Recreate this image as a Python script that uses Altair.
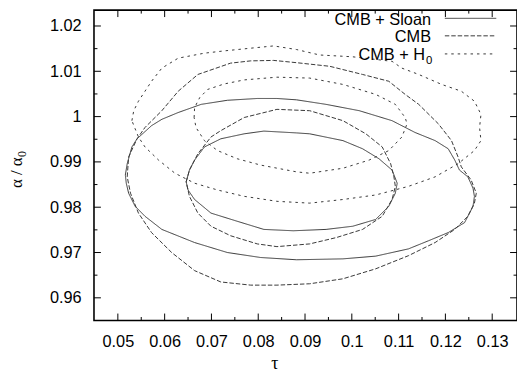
import altair as alt
import pandas as pd

# ---------------- data ----------------
sloan95_tau = [0.0516, 0.0520, 0.0530, 0.0541, 0.0572, 0.0594, 0.0629, 0.0678, 0.0734, 0.0798,
               0.0840, 0.0882, 0.0945, 0.1016, 0.1086, 0.1135, 0.1178, 0.1206, 0.1220, 0.1230,
               0.1248, 0.1259, 0.1262, 0.1259, 0.1241, 0.1206, 0.1164, 0.1121, 0.1051, 0.0981,
               0.0882, 0.0805, 0.0734, 0.0664, 0.0594, 0.0558, 0.0537, 0.0523, 0.0518]
sloan95_alpha = [0.9871, 0.9896, 0.9933, 0.9951, 0.9980, 0.9994, 1.0009, 1.0027, 1.0036, 1.0040,
                 1.0040, 1.0037, 1.0027, 1.0013, 0.9991, 0.9965, 0.9947, 0.9929, 0.9904, 0.9882,
                 0.9867, 0.9842, 0.9824, 0.9802, 0.9766, 0.9744, 0.9726, 0.9708, 0.9692, 0.9686,
                 0.9684, 0.9689, 0.9700, 0.9722, 0.9751, 0.9780, 0.9802, 0.9831, 0.9853]

sloan68_tau = [0.0646, 0.0653, 0.0664, 0.0685, 0.0720, 0.0770, 0.0812, 0.0882, 0.0910, 0.0981,
               0.1023, 0.1058, 0.1086, 0.1097, 0.1093, 0.1079, 0.1051, 0.1002, 0.0945, 0.0875,
               0.0812, 0.0755, 0.0699, 0.0664, 0.0650]
sloan68_alpha = [0.9856, 0.9882, 0.9904, 0.9933, 0.9951, 0.9962, 0.9968, 0.9964, 0.9962, 0.9947,
                 0.9929, 0.9907, 0.9882, 0.9853, 0.9831, 0.9802, 0.9773, 0.9758, 0.9751, 0.9748,
                 0.9751, 0.9769, 0.9787, 0.9817, 0.9838]

cmb95_tau = [0.0520, 0.0523, 0.0541, 0.0558, 0.0594, 0.0629, 0.0671, 0.0741, 0.0784, 0.0833,
             0.0882, 0.0953, 0.1023, 0.1079, 0.1114, 0.1143, 0.1185, 0.1213, 0.1227, 0.1234,
             0.1255, 0.1266, 0.1262, 0.1248, 0.1220, 0.1178, 0.1121, 0.1051, 0.0981, 0.0910,
             0.0840, 0.0784, 0.0720, 0.0664, 0.0615, 0.0572, 0.0544, 0.0527]
cmb95_alpha = [0.9867, 0.9911, 0.9951, 0.9976, 1.0013, 1.0056, 1.0093, 1.0118, 1.0123, 1.0124,
               1.0119, 1.0111, 1.0093, 1.0078, 1.0049, 1.0027, 0.9984, 0.9947, 0.9911, 0.9889,
               0.9860, 0.9831, 0.9809, 0.9780, 0.9751, 0.9722, 0.9693, 0.9664, 0.9642, 0.9631,
               0.9628, 0.9628, 0.9635, 0.9660, 0.9700, 0.9744, 0.9787, 0.9831]

cmb68_tau = [0.0646, 0.0653, 0.0671, 0.0699, 0.0720, 0.0770, 0.0840, 0.0910, 0.0981, 0.1030,
             0.1065, 0.1083, 0.1090, 0.1093, 0.1086, 0.1065, 0.1023, 0.0967, 0.0910, 0.0840,
             0.0798, 0.0741, 0.0699, 0.0671, 0.0653]
cmb68_alpha = [0.9856, 0.9882, 0.9918, 0.9955, 0.9969, 0.9998, 1.0016, 1.0013, 0.9991, 0.9962,
               0.9933, 0.9896, 0.9867, 0.9846, 0.9817, 0.9780, 0.9751, 0.9733, 0.9719, 0.9713,
               0.9719, 0.9737, 0.9758, 0.9787, 0.9824]

h095_tau = [0.0530, 0.0534, 0.0544, 0.0558, 0.0572, 0.0594, 0.0629, 0.0685, 0.0727, 0.0784,
            0.0833, 0.0882, 0.0931, 0.1002, 0.1086, 0.1107, 0.1143, 0.1192, 0.1234, 0.1262,
            0.1276, 0.1273, 0.1276, 0.1262, 0.1227, 0.1178, 0.1121, 0.1051, 0.0981, 0.0910,
            0.0840, 0.0770, 0.0713, 0.0664, 0.0622, 0.0587, 0.0558, 0.0544, 0.0537]
h095_alpha = [0.9991, 1.0013, 1.0034, 1.0056, 1.0078, 1.0107, 1.0129, 1.0140, 1.0145, 1.0151,
              1.0156, 1.0148, 1.0136, 1.0132, 1.0122, 1.0107, 1.0093, 1.0071, 1.0056, 1.0034,
              1.0005, 0.9976, 0.9947, 0.9925, 0.9896, 0.9867, 0.9846, 0.9827, 0.9817, 0.9809,
              0.9813, 0.9824, 0.9838, 0.9853, 0.9875, 0.9904, 0.9933, 0.9955, 0.9973]

h068_tau = [0.0663, 0.0664, 0.0675, 0.0692, 0.0727, 0.0770, 0.0840, 0.0910, 0.0981, 0.1051,
            0.1093, 0.1114, 0.1118, 0.1107, 0.1079, 0.1037, 0.0981, 0.0910, 0.0882, 0.0805,
            0.0755, 0.0713, 0.0685, 0.0667]
h068_alpha = [0.9998, 1.0020, 1.0042, 1.0060, 1.0072, 1.0081, 1.0087, 1.0085, 1.0071, 1.0049,
              1.0027, 0.9998, 0.9984, 0.9955, 0.9925, 0.9904, 0.9886, 0.9875, 0.9878, 0.9893,
              0.9907, 0.9925, 0.9947, 0.9976]

series_names = ["CMB + Sloan", "CMB", "CMB + H0"]
x_major = [0.05, 0.06, 0.07, 0.08, 0.09, 0.1, 0.11, 0.12, 0.13]
x_minor = [0.055, 0.065, 0.075, 0.085, 0.095, 0.105, 0.115, 0.125]
y_major = [0.96, 0.97, 0.98, 0.99, 1.0, 1.01, 1.02]
y_minor = [0.965, 0.975, 0.985, 0.995, 1.005, 1.015]

# ---------------- build table ----------------
contours = [
    ("CMB + Sloan", "sloan95", sloan95_tau, sloan95_alpha),
    ("CMB + Sloan", "sloan68", sloan68_tau, sloan68_alpha),
    ("CMB", "cmb95", cmb95_tau, cmb95_alpha),
    ("CMB", "cmb68", cmb68_tau, cmb68_alpha),
    ("CMB + H0", "h095", h095_tau, h095_alpha),
    ("CMB + H0", "h068", h068_tau, h068_alpha),
]
rows = []
for s, cid, ts, als in contours:
    assert len(ts) == len(als), cid
    pts = list(zip(ts, als)) + [(ts[0], als[0])]
    for i, (t, a) in enumerate(pts):
        rows.append({"series": s, "cid": cid, "i": i, "tau": t, "alpha": a})
df = pd.DataFrame(rows)

W, H = 428, 314
LINE = "#383838"
DASHES = [[1, 0], [4.5, 2], [2.5, 4]]
xscale = alt.Scale(domain=[0.0449, 0.1353], nice=False, zero=False)
yscale = alt.Scale(domain=[0.9550, 1.0235], nice=False, zero=False)

lab = dict(labelFont="Liberation Sans", labelFontSize=16.5, labelColor="black",
           grid=False, ticks=False, tickSize=0, domain=False, title=None, format="~g")
x_axis = alt.Axis(values=x_major, labelPadding=13, **lab)
y_axis = alt.Axis(values=y_major, labelPadding=13, **lab)

contour_layer = alt.Chart(df).mark_line(strokeWidth=1, color=LINE).encode(
    x=alt.X("tau:Q", scale=xscale, axis=x_axis),
    y=alt.Y("alpha:Q", scale=yscale, axis=y_axis),
    detail="cid:N",
    order="i:Q",
    strokeDash=alt.StrokeDash("series:N", scale=alt.Scale(domain=series_names, range=DASHES),
                              legend=None),
)

layers = [contour_layer]

# inward ticks on all four sides
for vals, L in [(x_major, 7), (x_minor, 3.5)]:
    tdf = pd.DataFrame({"v": vals})
    base = alt.Chart(tdf).mark_rule(color="black", strokeWidth=1)
    layers.append(base.encode(x=alt.X("v:Q", scale=xscale, axis=x_axis),
                              y=alt.value(H), y2=alt.value(H - L)))
    layers.append(base.encode(x=alt.X("v:Q", scale=xscale, axis=x_axis),
                              y=alt.value(0), y2=alt.value(L)))
for vals, L in [(y_major, 7), (y_minor, 3.5)]:
    tdf = pd.DataFrame({"v": vals})
    base = alt.Chart(tdf).mark_rule(color="black", strokeWidth=1)
    layers.append(base.encode(y=alt.Y("v:Q", scale=yscale, axis=y_axis),
                              x=alt.value(0), x2=alt.value(L)))
    layers.append(base.encode(y=alt.Y("v:Q", scale=yscale, axis=y_axis),
                              x=alt.value(W), x2=alt.value(W - L)))

one = pd.DataFrame({"d": [0]})


def text(txt, x, y, size, font="Liberation Sans", align="left", angle=0):
    return alt.Chart(one).mark_text(text=txt, fontSize=size, font=font, align=align,
                                    baseline="alphabetic", angle=angle, color="black").encode(
        x=alt.value(x), y=alt.value(y))


def key_line(y, dash):
    return alt.Chart(one).mark_rule(color=LINE, strokeWidth=1, strokeDash=dash).encode(
        x=alt.value(355), x2=alt.value(407), y=alt.value(y))


# legend (text right-aligned, line sample to the right)
layers += [
    text("CMB + Sloan", 341, 15.3, 16.5, align="right"), key_line(8.3, DASHES[0]),
    text("CMB", 341, 32.7, 16.5, align="right"), key_line(26, DASHES[1]),
    text("CMB + H", 335, 50.3, 16.5, align="right"), text("0", 336, 54, 11.5),
    key_line(44.3, DASHES[2]),
]

# axis titles
layers += [
    text("τ", 183, 363, 18, font="Liberation Serif", align="center"),
    text("α / α", -72.5, 180, 17, font="Liberation Serif", angle=270),
    text("0", -69, 148.5, 12, font="Liberation Serif", angle=270),
]

chart = alt.layer(*layers).properties(
    width=W, height=H,
    padding={"left": 87, "top": 0, "right": 0, "bottom": 52},
    autosize=alt.AutoSizeParams(type="none"),
).configure_view(stroke="black", strokeWidth=1.6)

chart.save("out.html", embed_options={"renderer": "svg", "actions": False})
